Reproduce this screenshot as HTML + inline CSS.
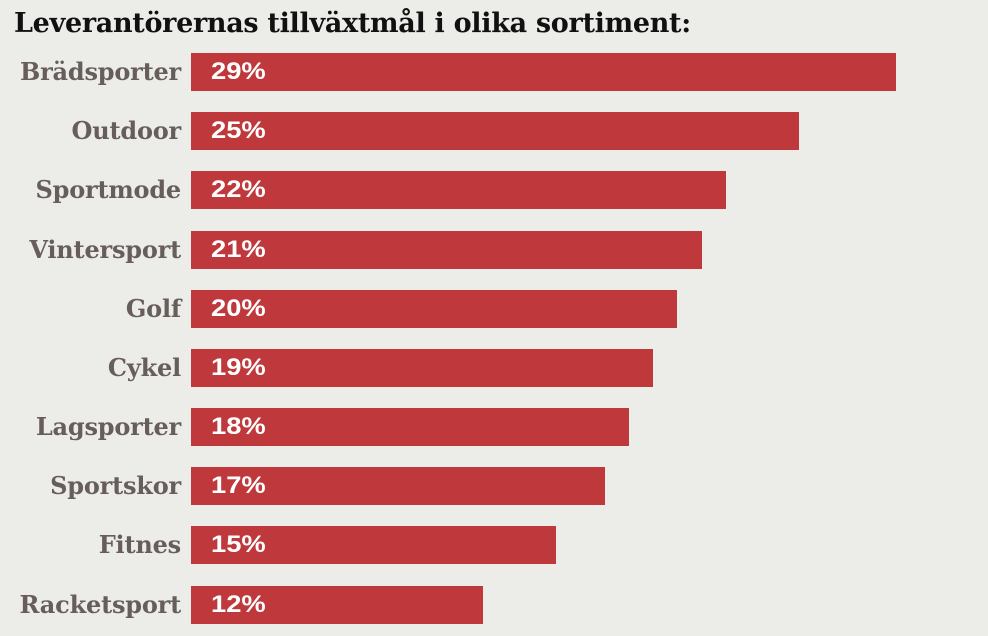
<!DOCTYPE html>
<html><head><meta charset="utf-8"><style>
body{margin:0;width:988px;height:636px;background:#ececE8;position:relative;overflow:hidden}
.t{position:absolute;left:14px;top:8px;font:bold 27px "DejaVu Serif",serif;color:#111;white-space:nowrap;letter-spacing:-0.3px}
.l{position:absolute;right:807px;font:bold 24px "DejaVu Serif",serif;color:#675e5b;height:38px;line-height:38px;white-space:nowrap;letter-spacing:-0.2px}
.b{position:absolute;left:191px;height:38px;background:#bf383b}
.p{position:absolute;left:211px;font:bold 24px "Liberation Sans",sans-serif;color:#fff;height:38px;line-height:38px;transform:scaleX(1.14);transform-origin:left center}
</style></head><body>
<div class="t">Leverantörernas tillväxtmål i olika sortiment:</div>
<div class="l" style="top:53px">Brädsporter</div><div class="b" style="top:53px;width:705px"></div><div class="p" style="top:53px">29%</div>
<div class="l" style="top:112px">Outdoor</div><div class="b" style="top:112px;width:608px"></div><div class="p" style="top:112px">25%</div>
<div class="l" style="top:171px">Sportmode</div><div class="b" style="top:171px;width:535px"></div><div class="p" style="top:171px">22%</div>
<div class="l" style="top:231px">Vintersport</div><div class="b" style="top:231px;width:511px"></div><div class="p" style="top:231px">21%</div>
<div class="l" style="top:290px">Golf</div><div class="b" style="top:290px;width:486px"></div><div class="p" style="top:290px">20%</div>
<div class="l" style="top:349px">Cykel</div><div class="b" style="top:349px;width:462px"></div><div class="p" style="top:349px">19%</div>
<div class="l" style="top:408px">Lagsporter</div><div class="b" style="top:408px;width:438px"></div><div class="p" style="top:408px">18%</div>
<div class="l" style="top:467px">Sportskor</div><div class="b" style="top:467px;width:414px"></div><div class="p" style="top:467px">17%</div>
<div class="l" style="top:526px">Fitnes</div><div class="b" style="top:526px;width:365px"></div><div class="p" style="top:526px">15%</div>
<div class="l" style="top:586px">Racketsport</div><div class="b" style="top:586px;width:292px"></div><div class="p" style="top:586px">12%</div>
</body></html>
